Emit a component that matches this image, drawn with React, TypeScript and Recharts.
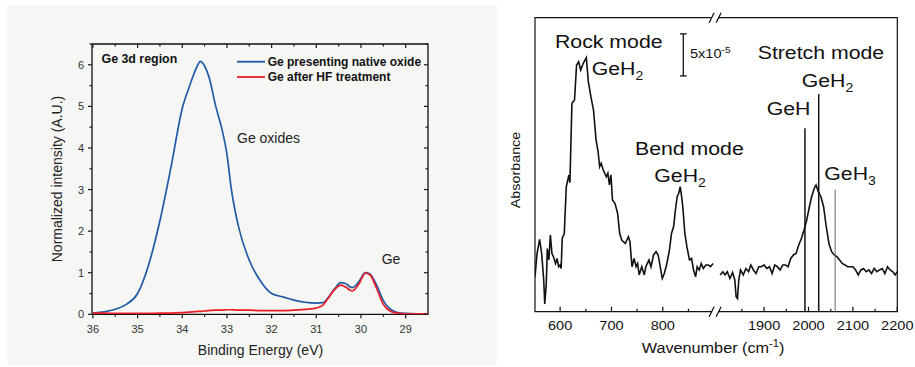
import React from 'react';
import {
  LineChart, Line, XAxis, YAxis, ReferenceLine, ReferenceArea, ReferenceDot,
} from 'recharts';

// ---- left panel: Ge 3d XPS ----
const bindingEnergy = [36, 35.75, 35.5, 35.25, 35, 34.75, 34.5, 34.25, 34, 33.85, 33.75, 33.65, 33.6, 33.5, 33.4, 33.25, 33.1, 33, 32.9, 32.75, 32.5, 32.25, 32, 31.75, 31.5, 31.25, 31, 30.85, 30.75, 30.6, 30.45, 30.35, 30.2, 30.05, 29.9, 29.8, 29.65, 29.5, 29.35, 29.2, 29, 28.75, 28.5];
const nativeOxide = [0.03, 0.06, 0.12, 0.24, 0.5, 1.2, 2.25, 3.55, 4.95, 5.45, 5.75, 6.0, 6.08, 5.97, 5.7, 5.0, 4.4, 3.85, 3.0, 2.15, 1.3, 0.8, 0.5, 0.42, 0.34, 0.29, 0.27, 0.28, 0.38, 0.6, 0.76, 0.74, 0.64, 0.78, 1.0, 0.97, 0.7, 0.33, 0.13, 0.05, 0.02, 0.01, 0.01];
const hfTreated = [0.03, 0.03, 0.02, 0.02, 0.02, 0.02, 0.03, 0.03, 0.04, 0.05, 0.06, 0.07, 0.07, 0.08, 0.09, 0.1, 0.1, 0.11, 0.11, 0.1, 0.1, 0.09, 0.09, 0.09, 0.1, 0.12, 0.15, 0.22, 0.36, 0.58, 0.7, 0.66, 0.56, 0.72, 0.99, 0.95, 0.62, 0.24, 0.08, 0.03, 0.01, 0.01, 0.01];
const xpsTicksX = [29, 29.5, 30, 30.5, 31, 31.5, 32, 32.5, 33, 33.5, 34, 34.5, 35, 35.5, 36];
const xpsTicksY = [0, 0.5, 1, 1.5, 2, 2.5, 3, 3.5, 4, 4.5, 5, 5.5, 6, 6.5];
const xpsDomainX = [28.5, 36.02];
const xpsDomainY = [0, 6.5];
const xpsSeries = [
  { key: 'oxide', name: 'Ge presenting native oxide', color: '#1f5aa6' },
  { key: 'hf', name: 'Ge after HF treatment', color: '#ee1c25' },
];

// ---- right panel: FTIR, broken wavenumber axis ----
const lowWavenumber = [551, 555, 560, 564, 568, 570, 573, 575, 578, 581, 584, 587, 591, 594, 597, 600, 602, 604, 608, 612, 617, 619, 623, 628, 632, 636, 640, 645, 651, 655, 660, 665, 670, 674, 677, 680, 684, 690, 693, 696, 699, 702, 707, 712, 716, 720, 727, 733, 736, 740, 744, 748, 751, 754, 759, 764, 767, 773, 777, 782, 787, 791, 795, 799, 803, 808, 813, 817, 821, 825, 828, 831, 834, 836, 839, 843, 847, 852, 856, 860, 864, 867, 871, 875, 879, 884, 889, 893, 898];
const lowAbsorbance = [11.9, 19.8, 24.6, 19.8, 10.8, 2.6, 9.6, 21.5, 17.6, 26.1, 19.8, 18.7, 16.4, 18.1, 15.3, 15.9, 14.7, 24.9, 26.6, 42.5, 46.5, 43.9, 70.9, 72.0, 83.9, 85.0, 82.2, 84.5, 86.4, 78.2, 73.1, 68.6, 58.4, 54.4, 49.3, 50.5, 48.2, 45.9, 47.1, 43.1, 46.5, 38.0, 36.8, 33.4, 26.6, 24.4, 23.2, 25.5, 23.8, 15.3, 18.1, 15.3, 16.4, 12.5, 15.3, 12.5, 15.3, 17.6, 15.3, 19.3, 20.4, 19.3, 15.3, 11.3, 13.0, 16.4, 21.0, 26.6, 28.9, 35.1, 39.1, 40.2, 42.5, 40.2, 35.7, 26.6, 22.1, 17.6, 18.1, 14.2, 11.9, 15.3, 14.2, 16.4, 14.7, 15.9, 15.9, 15.3, 16.4];
const highWavenumber = [1801, 1807, 1812, 1817, 1823, 1829, 1834, 1837, 1840, 1843, 1847, 1853, 1859, 1865, 1870, 1876, 1882, 1888, 1894, 1900, 1906, 1912, 1918, 1924, 1930, 1936, 1942, 1948, 1954, 1960, 1966, 1972, 1978, 1984, 1990, 1996, 2002, 2007, 2013, 2017, 2022, 2028, 2034, 2040, 2046, 2052, 2058, 2064, 2070, 2076, 2082, 2088, 2094, 2100, 2106, 2112, 2118, 2124, 2130, 2136, 2142, 2148, 2154, 2160, 2166, 2172, 2178, 2184, 2190, 2195, 2200];
const highAbsorbance = [12.5, 13.6, 12.5, 13.6, 11.3, 13.3, 10.8, 5.1, 4.5, 10.8, 14.2, 12.5, 14.7, 13.6, 15.9, 14.2, 13.0, 15.3, 15.3, 15.9, 14.7, 15.3, 13.0, 15.9, 15.3, 14.2, 15.9, 15.9, 15.3, 18.1, 19.3, 19.8, 22.7, 24.9, 27.8, 31.2, 35.7, 39.1, 42.0, 43.1, 40.8, 39.1, 35.7, 28.9, 23.2, 20.4, 19.3, 18.7, 17.6, 16.4, 15.9, 15.3, 15.3, 15.3, 14.2, 12.5, 14.2, 14.7, 13.6, 14.2, 13.0, 14.7, 13.6, 14.2, 14.7, 13.0, 15.3, 14.2, 13.6, 12.5, 13.6];
const lowTicks = [600, 650, 700, 750, 800, 850];
const highTicks = [1850, 1900, 1950, 2000, 2050, 2100, 2150, 2200];
const lowDomain = [551, 1257];
const highDomain = [1384, 2200];
const axisBreak = 902;
// GeH, GeH2, GeH3 stretch positions and marker heights
const modePositions = [1992, 2023, 2060];
const modeHeights = [62.4, 74.0, 41.6];
const modeColors = ['#111', '#111', '#777'];
// 5x10^-5 scale bar
const scaleBarPos = 840;
const scaleBarRange = [80.2, 94.5];
const scaleBarCap = [833.5, 846.5];

const xpsData = bindingEnergy.map((e, i) => ({ e, oxide: nativeOxide[i], hf: hfTreated[i] }));
const lowData = lowWavenumber.map((w, i) => ({ w, a: lowAbsorbance[i] }));
const highData = highWavenumber.map((w, i) => ({ w, a: highAbsorbance[i] }));

const FONT = '"Liberation Sans", Arial, sans-serif';
const R_BOTTOM = 311.7;

const isMajor = (v: number) => Math.abs(v - Math.round(v)) < 1e-6;

const XpsBottomTick = (p: any) => {
  const major = isMajor(p.payload.value);
  return (
    <g>
      <line x1={p.x} x2={p.x} y1={p.y} y2={p.y + (major ? 4 : 2.5)} stroke="#1a1a1a" strokeWidth={1.2} />
      {major && (
        <text x={p.x} y={p.y + 18.7} textAnchor="middle" fontSize={11} fill="#333" fontFamily={FONT}>
          {p.payload.value}
        </text>
      )}
    </g>
  );
};
const XpsLeftTick = (p: any) => {
  const major = isMajor(p.payload.value);
  return (
    <g>
      <line x1={p.x} x2={p.x - (major ? 4 : 2.5)} y1={p.y} y2={p.y} stroke="#1a1a1a" strokeWidth={1.2} />
      {major && (
        <text x={p.x - 8} y={p.y + 4} textAnchor="end" fontSize={11} fill="#333" fontFamily={FONT}>
          {p.payload.value}
        </text>
      )}
    </g>
  );
};
const XpsTopTick = (p: any) => (
  <line x1={p.x} x2={p.x} y1={p.y} y2={p.y + (isMajor(p.payload.value) ? 4 : 2.5)} stroke="#1a1a1a" strokeWidth={1.2} />
);
const XpsRightTick = (p: any) => (
  <line x1={p.x} x2={p.x - (isMajor(p.payload.value) ? 4 : 2.5)} y1={p.y} y2={p.y} stroke="#1a1a1a" strokeWidth={1.2} />
);

const FtirTick = (p: any) => {
  const major = p.payload.value % 100 === 0;
  return (
    <g>
      <line x1={p.x} x2={p.x} y1={R_BOTTOM} y2={R_BOTTOM - (major ? 5 : 3)} stroke="#111" strokeWidth={1.2} />
      {major && (
        <text transform={`translate(${p.x},${R_BOTTOM + 18}) scale(1.12,1)`} textAnchor="middle" fontSize={13} fill="#111" fontFamily={FONT}>
          {p.payload.value}
        </text>
      )}
    </g>
  );
};

const BreakMark = (p: any) => (
  <g>
    <rect x={p.cx - 3} y={p.cy - 2} width={6} height={4} fill="#fff" />
    <line x1={p.cx - 6} y1={p.cy + 5} x2={p.cx - 1} y2={p.cy - 5} stroke="#111" strokeWidth={1.2} />
    <line x1={p.cx + 1} y1={p.cy + 5} x2={p.cx + 6} y2={p.cy - 5} stroke="#111" strokeWidth={1.2} />
  </g>
);

const Big = ({ x, y, text, sub }: { x: number; y: number; text: string; sub?: string }) => (
  <text transform={`translate(${x},${y}) scale(1.12,1)`} fontSize={19} fill="#111" fontFamily={FONT}>
    {text}
    {sub && <tspan fontSize={12.5} dy={5}>{sub}</tspan>}
  </text>
);

export default function App() {
  return (
    <div style={{ position: 'absolute', left: 0, top: 0, width: 915, height: 367, background: '#fff', fontFamily: FONT }}>
      <div style={{ position: 'absolute', left: 7, top: 5, width: 490, height: 360, background: '#f6f6f5' }} />

      <div style={{ position: 'absolute', left: 0, top: 0 }}>
        <LineChart width={460} height={367} data={xpsData} margin={{ top: 43, right: 31, left: 52, bottom: 22.7 }}>
          <XAxis xAxisId="bx" dataKey="e" type="number" domain={xpsDomainX} reversed allowDataOverflow
            ticks={xpsTicksX} interval={0} tickSize={0} tickMargin={0} height={30}
            axisLine={false} tick={<XpsBottomTick />} />
          <XAxis xAxisId="tx" orientation="top" dataKey="e" type="number" domain={xpsDomainX} reversed allowDataOverflow
            ticks={xpsTicksX} interval={0} tickSize={0} tickMargin={0} height={1}
            axisLine={false} tick={<XpsTopTick />} />
          <YAxis yAxisId="ly" type="number" domain={xpsDomainY} allowDataOverflow ticks={xpsTicksY} interval={0}
            tickSize={0} tickMargin={0} width={40} axisLine={false} tick={<XpsLeftTick />} />
          <YAxis yAxisId="ry" orientation="right" type="number" domain={xpsDomainY} allowDataOverflow ticks={xpsTicksY} interval={0}
            tickSize={0} tickMargin={0} width={1} axisLine={false} tick={<XpsRightTick />} />
          <ReferenceArea xAxisId="bx" yAxisId="ly" x1={xpsDomainX[1]} x2={xpsDomainX[0]} y1={xpsDomainY[0]} y2={xpsDomainY[1]}
            fill="none" stroke="#111" strokeWidth={1.3} ifOverflow="visible" />
          {xpsSeries.map((s) => (
            <Line key={s.key} xAxisId="bx" yAxisId="ly" dataKey={s.key} name={s.name} type="monotone" stroke={s.color}
              strokeWidth={1.7} dot={false} isAnimationActive={false} />
          ))}
        </LineChart>
      </div>

      <div style={{ position: 'absolute', left: 460, top: 0 }}>
        <LineChart width={455} height={367} margin={{ top: 17.7, right: 17.7, left: 75, bottom: 14.3 }}>
          <XAxis xAxisId="a" dataKey="w" type="number" domain={lowDomain} allowDataOverflow
            ticks={lowTicks} interval={0} tickSize={0} tickMargin={0} height={1} axisLine={false} tick={<FtirTick />} />
          <XAxis xAxisId="b" dataKey="w" type="number" domain={highDomain} allowDataOverflow
            ticks={highTicks} interval={0} tickSize={0} tickMargin={0} height={40} axisLine={false} tick={<FtirTick />} />
          <YAxis type="number" domain={[0, 100]} allowDataOverflow hide />
          <ReferenceArea xAxisId="a" x1={lowDomain[0]} x2={lowDomain[1]} y1={0} y2={100}
            fill="none" stroke="#111" strokeWidth={1.2} ifOverflow="visible" />
          <Line xAxisId="a" data={lowData} dataKey="a" type="linear" stroke="#111" strokeWidth={1.6}
            dot={false} isAnimationActive={false} />
          <Line xAxisId="b" data={highData} dataKey="a" type="linear" stroke="#111" strokeWidth={1.6}
            dot={false} isAnimationActive={false} />
          {modePositions.map((m, i) => (
            <ReferenceLine key={m} xAxisId="b" segment={[{ x: m, y: 0 }, { x: m, y: modeHeights[i] }]}
              stroke={modeColors[i]} strokeWidth={i === 2 ? 1.1 : 1.5} />
          ))}
          <ReferenceLine xAxisId="a" segment={[{ x: scaleBarPos, y: scaleBarRange[0] }, { x: scaleBarPos, y: scaleBarRange[1] }]} stroke="#111" strokeWidth={1.3} />
          <ReferenceLine xAxisId="a" segment={[{ x: scaleBarCap[0], y: scaleBarRange[0] }, { x: scaleBarCap[1], y: scaleBarRange[0] }]} stroke="#111" strokeWidth={1.3} />
          <ReferenceLine xAxisId="a" segment={[{ x: scaleBarCap[0], y: scaleBarRange[1] }, { x: scaleBarCap[1], y: scaleBarRange[1] }]} stroke="#111" strokeWidth={1.3} />
          <ReferenceDot xAxisId="a" x={axisBreak} y={0} r={0} ifOverflow="visible" shape={<BreakMark />} />
          <ReferenceDot xAxisId="a" x={axisBreak} y={100} r={0} ifOverflow="visible" shape={<BreakMark />} />
        </LineChart>
      </div>

      <svg width={915} height={367} style={{ position: 'absolute', left: 0, top: 0, pointerEvents: 'none' }} fontFamily={FONT}>
        {/* left panel annotations and legend */}
        <text x={101.5} y={63} fontSize={12.4} fontWeight="bold" fill="#111">Ge 3d region</text>
        {xpsSeries.map((s, i) => (
          <g key={s.key}>
            <line x1={237} x2={265} y1={61.7 + i * 15.3} y2={61.7 + i * 15.3} stroke={s.color} strokeWidth={1.8} />
            <text x={267.7} y={66.1 + i * 15.3} fontSize={12} fontWeight="bold" fill="#111">{s.name}</text>
          </g>
        ))}
        <text x={237} y={142.7} fontSize={14} fill="#222">Ge oxides</text>
        <text x={381.7} y={264} fontSize={14} fill="#222">Ge</text>
        <text transform="translate(62,179) rotate(-90)" textAnchor="middle" fontSize={14} fill="#222">Normalized intensity (A.U.)</text>
        <text x={260.5} y={355} textAnchor="middle" fontSize={14} fill="#222">Binding Energy (eV)</text>

        {/* right panel annotations */}
        <Big x={555} y={48.3} text="Rock mode" />
        <Big x={591.7} y={75} text="GeH" sub="2" />
        <Big x={757.7} y={59.3} text="Stretch mode" />
        <Big x={801.7} y={86.7} text="GeH" sub="2" />
        <Big x={766.7} y={115} text="GeH" />
        <Big x={635} y={154.5} text="Bend mode" />
        <Big x={654.3} y={181.5} text="GeH" sub="2" />
        <Big x={824.3} y={179.5} text="GeH" sub="3" />
        <text transform="translate(690,58) scale(1.12,1)" fontSize={13} fill="#111">
          5x10<tspan fontSize={9} dy={-5}>-5</tspan>
        </text>
        <text transform="translate(519.5,170) rotate(-90) scale(1.12,1)" textAnchor="middle" fontSize={12.8} fill="#111">Absorbance</text>
        <text transform="translate(641.7,353) scale(1.12,1)" fontSize={14.5} fill="#111">
          Wavenumber (cm<tspan fontSize={10} dy={-6}>-1</tspan><tspan dy={6}>)</tspan>
        </text>
      </svg>
    </div>
  );
}
